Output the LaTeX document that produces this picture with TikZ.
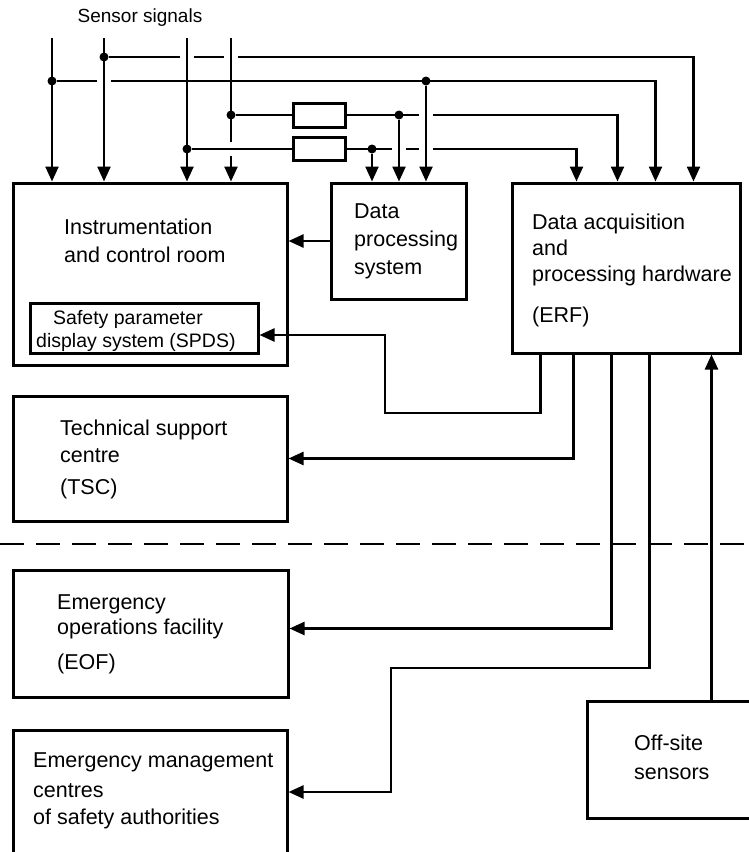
\documentclass[tikz,border=0pt]{standalone}
\usepackage{fontspec}
\setmainfont{Liberation Sans}
\usetikzlibrary{arrows.meta}
% break a line where another one crosses it
\newcommand\gapH[2]{\fill[white] (#1-7,#2-3) rectangle (#1+7,#2+3); \draw[sig] (#1,#2-4) -- (#1,#2+4);}
\newcommand\gapV[2]{\fill[white] (#1-3,#2-7) rectangle (#1+3,#2+7); \draw[sig] (#1-4,#2) -- (#1+4,#2);}
\begin{document}
\begin{tikzpicture}[>={Triangle[length=15pt,width=13pt]},x=1pt,y=-1pt,
    blk/.style={draw,line width=3pt,inner sep=0pt},
    sig/.style={line width=2.4pt},
    lbl/.style={anchor=north west,align=left,inner sep=0pt,font=\fontsize{21.5}{27}\selectfont},
    dot/.style={circle,fill,inner sep=0pt,minimum size=9pt}]
    \useasboundingbox (0,0) rectangle (749,852);
    \clip (0,0) rectangle (749,852);
    \node[font=\fontsize{19}{23}\selectfont] (sens) at (140,18) {Sensor signals};
    % boxes
    \node[blk,minimum width=274pt,minimum height=182pt] (icr) at (150,274) {};
    \node[blk,minimum width=228pt,minimum height=50pt] (spds) at (144,328) {};
    \node[blk,minimum width=135pt,minimum height=116pt] (dps) at (398.5,241) {};
    \node[blk,minimum width=228pt,minimum height=170pt] (erf) at (626,268) {};
    \node[blk,minimum width=274pt,minimum height=125pt] (tsc) at (150,458.5) {};
    \node[blk,minimum width=275pt,minimum height=127pt] (eof) at (150.5,633.5) {};
    \node[blk,minimum width=274pt,minimum height=140pt] (emc) at (150,800) {};
    \node[blk,minimum width=183pt,minimum height=117pt] (off) at (678.5,759.5) {};
    \node[blk,minimum width=52pt,minimum height=24pt] (f1) at (319,115) {};
    \node[blk,minimum width=52pt,minimum height=23pt] (f2) at (319,149) {};
    \node[lbl] (icrtxt) at (64,219) {Instrumentation\\[1pt]and control room};
    \node[lbl,font=\fontsize{19.5}{23}\selectfont] (spdstxt) at (36,310) {\hspace*{17pt}Safety parameter\\display system (SPDS)};
    \node[lbl] (dpstxt) at (354,204) {Data\\[1pt]processing\\[1pt]system};
    \node[lbl] (erftxt) at (532,214) {Data acquisition\\[-1pt]and\\[-1pt]processing hardware\\[14pt](ERF)};
    \node[lbl] (tsctxt) at (60,420) {Technical support\\centre\\[5pt](TSC)};
    \node[lbl] (eoftxt) at (57,594) {Emergency\\[-2pt]operations facility\\[8pt](EOF)};
    \node[lbl] (emctxt) at (33,752) {Emergency management\\[3pt]centres\\of safety authorities};
    \node[lbl] (offtxt) at (634,735) {Off-site\\[2pt]sensors};
    % sensor inputs
    \coordinate (s1) at (52,38);
    \coordinate (s2) at (104,38);
    \coordinate (s3) at (187,38);
    \coordinate (s4) at (231,38);
    \foreach \s in {s1,s2,s3,s4}
        \draw[sig,->] (\s) -- (\s |- icr.north);
    \node[dot] (j1) at (104,57) {};
    \node[dot] (j2) at (52,81) {};
    \node[dot] (k2) at (426,81) {};
    \node[dot] (j3) at (231,115) {};
    \node[dot] (k3) at (399,115) {};
    \node[dot] (j4) at (187,149) {};
    \node[dot] (k4) at (372,149) {};
    \path (erf.north west) ++(66,0) coordinate (e1) ++(41,0) coordinate (e2)
        ++(38,0) coordinate (e3) ++(38,0) coordinate (e4);
    \path (erf.south west) ++(30,0) coordinate (o1) ++(33,0) coordinate (o2)
        ++(38,0) coordinate (o3) ++(38,0) coordinate (o4) ++(62,0) coordinate (o5);
    \coordinate (c1) at (385,413);
    \coordinate (c2) at (391,668);
    \draw[sig,->] (j1) -| (e4);
    \draw[sig,->] (j2) -| (e3);
    \draw[sig,->] (k2) -- (k2 |- dps.north);
    \draw[sig] (j3) -- (f1);
    \draw[sig,->] (f1) -| (e2);
    \draw[sig,->] (k3) -- (k3 |- dps.north);
    \draw[sig] (j4) -- (f2);
    \draw[sig,->] (f2) -| (e1);
    \draw[sig,->] (k4) -- (k4 |- dps.north);
    \draw[sig,->] (dps.west) -- (dps.west -| icr.east);
    % outputs of the ERF
    \draw[sig,->] (o1) |- (c1) |- ([yshift=-7pt]spds.east);
    \draw[sig,->] (o2) |- (tsc.east);
    \draw[sig,->] (o3) |- ([yshift=5pt]eof.east);
    \draw[sig,->] (o4) |- (c2) |- ([yshift=8pt]emc.east);
    \draw[sig,->] (o5 |- off.north) -- (o5);
    \draw[sig,dash pattern=on 24pt off 12pt] (0,544) -- (749,544);
    \gapH{187}{57} \gapH{231}{57} \gapH{104}{81}
    \gapH{426}{115} \gapH{399}{149} \gapH{426}{149}
    \gapV{231}{149}
\end{tikzpicture}
\end{document}
